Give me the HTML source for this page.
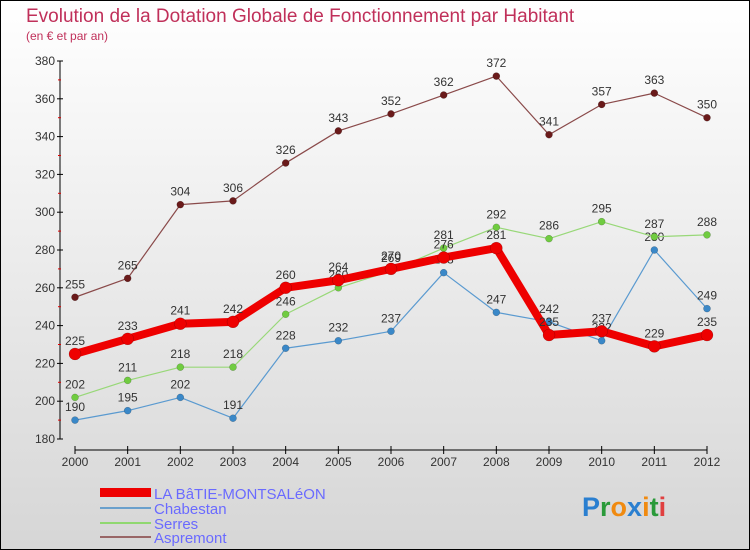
<!DOCTYPE html>
<html><head><meta charset="utf-8"><style>
body{margin:0}
svg{display:block;font-family:"Liberation Sans",sans-serif}
</style></head><body>
<svg id="c" width="750" height="550" viewBox="0 0 750 550">
<defs><linearGradient id="bg" x1="0" y1="0" x2="0" y2="1"><stop offset="0" stop-color="#ffffff"/><stop offset="1" stop-color="#d6d6d6"/></linearGradient></defs>
<rect x="0.5" y="0.5" width="749" height="549" fill="url(#bg)" stroke="#000"/>
<text x="26" y="22" font-size="19" fill="#c0305a">Evolution de la Dotation Globale de Fonctionnement par Habitant</text>
<text x="26" y="40" font-size="12" fill="#c0305a">(en € et par an)</text>
<g id="axes"></g><g id="series"></g>
<g>
<rect x="100" y="488" width="51" height="9" fill="#e00"/>
<text x="154" y="499" font-size="15" fill="#6a6aff">LA BâTIE-MONTSALéON</text>
<line x1="100" y1="508" x2="151" y2="508" stroke="#6aa0cc" stroke-width="2"/>
<text x="154" y="514" font-size="15" fill="#6a6aff">Chabestan</text>
<line x1="100" y1="523" x2="151" y2="523" stroke="#90d870" stroke-width="2"/>
<text x="154" y="529" font-size="15" fill="#6a6aff">Serres</text>
<line x1="100" y1="537" x2="151" y2="537" stroke="#996666" stroke-width="2"/>
<text x="154" y="543" font-size="15" fill="#6a6aff">Aspremont</text>
</g>
<text x="582" y="516" font-size="27" font-weight="bold"><tspan fill="#2a7fd0">P</tspan><tspan fill="#2a9a3a">r</tspan><tspan fill="#f08a10">o</tspan><tspan fill="#2a7fd0">x</tspan><tspan fill="#f08a10">i</tspan><tspan fill="#2a9a3a">t</tspan><tspan fill="#e04040">i</tspan></text>
</svg>
<script>
const years=[2000,2001,2002,2003,2004,2005,2006,2007,2008,2009,2010,2011,2012];
const batie=[225,233,241,242,260,264,270,276,281,235,237,229,235];
const chabestan=[190,195,202,191,228,232,237,268,247,242,232,280,249];
const serres=[202,211,218,218,246,260,269,281,292,286,295,287,288];
const aspremont=[255,265,304,306,326,343,352,362,372,341,357,363,350];
const yTicks=[180,200,220,240,260,280,300,320,340,360,380];
const NS="http://www.w3.org/2000/svg";
const X=i=>75+i*(707-75)/(years.length-1);
const Y=v=>439-(v-180)*(439-61)/200;
function mk(tag,attrs,parent){const e=document.createElementNS(NS,tag);for(const k in attrs)e.setAttribute(k,attrs[k]);parent.appendChild(e);return e;}
const ax=document.getElementById('axes');
let yl=mk('line',{x1:60,y1:61,x2:60,y2:439,stroke:'#000','stroke-width':1},ax);


yTicks.forEach(t=>{
 mk('line',{x1:57,y1:Y(t),x2:63,y2:Y(t),stroke:'#000'},ax);
 if(t<380) mk('line',{x1:58,y1:Y(t+10),x2:61,y2:Y(t+10),stroke:'#d00'},ax);
 const tx=mk('text',{x:55,y:Y(t)+4,'font-size':12,'text-anchor':'end',fill:'#333'},ax);tx.textContent=t;
 
 
});
let xl=mk('line',{x1:75,y1:450,x2:707,y2:450,stroke:'#000','stroke-width':1},ax);


years.forEach((y,i)=>{
 mk('line',{x1:X(i),y1:446,x2:X(i),y2:454,stroke:'#000'},ax);
 const tx=mk('text',{x:X(i),y:466,'font-size':12,'text-anchor':'middle',fill:'#333'},ax);tx.textContent=y;
 
 
});
const sg=document.getElementById('series');
function series(name,data,color,w,r,dot){
 const g=mk('g',{},sg);
 
 
 const p=mk('polyline',{points:data.map((v,i)=>X(i)+','+Y(v)).join(' '),fill:'none',stroke:color,'stroke-width':w,'stroke-linejoin':'round'},g);
 
 
 data.forEach((v,i)=>{
  const c=mk('circle',{cx:X(i),cy:Y(v),r:r,fill:dot,stroke:'rgba(0,0,0,0.3)','stroke-width':0.5},g);
  
  
  const t=mk('text',{x:X(i),y:Y(v)-9,'font-size':12,'text-anchor':'middle',fill:'#333'},g);t.textContent=v;
  
  
 });
}
series('aspremont',aspremont,'#8a4a4a',1.2,3.5,'#6a1a1a');
series('chabestan',chabestan,'#5a9ad0',1.2,3.5,'#3a88c8');
series('serres',serres,'#98d878',1.2,3.5,'#70cc40');
series('batie',batie,'#ee0000',8,6,'#ee0000');
</script>
</body></html>
